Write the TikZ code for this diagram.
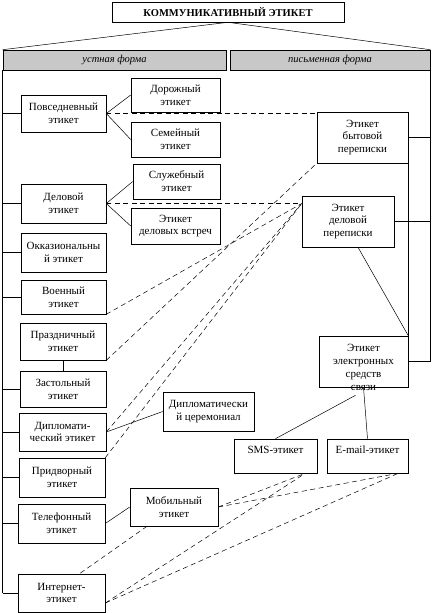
\documentclass[tikz,border=0pt]{standalone}
\usepackage{fontspec}
\setmainfont{Liberation Serif}
\definecolor{hdrgray}{RGB}{200,200,200}

\begin{document}
\begin{tikzpicture}[x=1pt, y=-1pt]
		\tikzset{box/.style={draw, line width=0.6pt, align=center, inner sep=1pt, font=\fontsize{11}{12.8}\selectfont}}
		\tikzset{sz/.style 2 args={minimum width=#1pt, minimum height=#2pt}}
		\tikzset{link/.style={line width=0.5pt}}
		\tikzset{dashlink/.style={line width=0.5pt, dash pattern=on 5pt off 3.5pt}}
		\useasboundingbox (0,0) rectangle (433,613);
		%headers
		\node[box, sz={232}{20}, font=\fontsize{10.5}{13}\selectfont\bfseries] (title) at (228,12) {КОММУНИКАТИВНЫЙ ЭТИКЕТ};
		\node[box, sz={223}{20}, fill=hdrgray, font=\fontsize{10.5}{12}\selectfont\itshape] (hdrL) at (114.5,60) {устная форма};
		\node[box, sz={200}{20}, fill=hdrgray, font=\fontsize{10.5}{12}\selectfont\itshape] (hdrR) at (330,60) {письменная форма};
		%oral form
		\node[box, sz={85}{37}] (pov) at (63.5,113.5) {Повседневный\\этикет};
		\node[box, sz={89}{34}] (dor) at (175.5,95) {Дорожный\\этикет};
		\node[box, sz={89}{35}] (sem) at (175.5,139.5) {Семейный\\этикет};
		\node[box, sz={87}{35}] (slu) at (176.5,181.5) {Служебный\\этикет};
		\node[box, sz={85}{39}] (del) at (63.5,203.5) {Деловой\\этикет};
		\node[box, sz={89}{36}] (vst) at (175.5,226) {Этикет\\деловых встреч};
		\node[box, sz={85}{39}] (okk) at (63.5,252.5) {Окказиональны\\й этикет};
		\node[box, sz={85}{34}] (voe) at (63.5,297) {Военный\\этикет};
		\node[box, sz={86}{37}] (pra) at (63,341.5) {Праздничный\\этикет};
		\node[box, sz={86}{36}] (zas) at (63,389) {Застольный\\этикет};
		\node[box, sz={87}{38}] (dip) at (62.5,432) {Дипломати-\\ческий этикет};
		\node[box, sz={86}{39}] (pri) at (62,477.5) {Придворный\\этикет};
		\node[box, sz={87}{39}] (tel) at (61.5,523.5) {Телефонный\\этикет};
		\node[box, sz={87}{38}] (int) at (61.5,593) {Интернет-\\этикет};
		\node[box, sz={91}{39}] (cer) at (208.5,411.5) {Дипломатически\\й церемониал};
		\node[box, sz={88}{38}] (mob) at (174,507) {Мобильный\\этикет};
		%written form
		\node[box, sz={91}{51}] (byt) at (362.5,137.5) {Этикет\\бытовой\\переписки};
		\node[box, sz={92}{51}] (dlp) at (348,221.5) {Этикет\\деловой\\переписки};
		\node[box, sz={89}{51}, label={[align=center, font=\fontsize{11}{13}\selectfont, yshift=-6pt]center:{Этикет\\электронных\\средств\\связи}}] (ele) at (363.5,361.5) {};
		\node[box, sz={83}{34}] (sms) at (275.5,456) {SMS-этикет\\\mbox{}};
		\node[box, sz={81}{34}] (eml) at (367.5,456) {E-mail-этикет\\\mbox{}};
		%tree
		\draw[link] (hdrL.north west) -- (title.south) -- (hdrR.north east);
		\coordinate (ltop) at (hdrL.south west);
		\coordinate (rtop) at (hdrR.south east);
		\draw[link] (ltop) -- (ltop |- int.west);
		\foreach \n in {pov,del,okk,voe,zas,dip,pri,tel,int}
			\draw[link] (ltop |- \n.west) -- (\n.west);
		\draw[link] (rtop) -- (rtop |- ele.east);
		\foreach \n in {byt,dlp,ele}
			\draw[link] (rtop |- \n.east) -- (\n.east);
		\draw[link] (byt.south east) -- (ele.north east);
		%edges
		\path[link] (pov.east) edge (dor.west) edge (sem.west);
		\path[link] (del.east) edge (slu.west) edge (vst.west);
		\draw[link] (pra.south) -- (zas.north);
		\draw[link] (dip.east) -- (cer.west);
		\draw[link] (tel.east) -- (mob.west);
		\draw[link] ([xshift=10pt]dlp.south) -- (ele.north east);
		\draw[link] ([xshift=-8pt, yshift=-8pt]ele.south) -- (sms.north);
		\draw[link] (ele.south) -- (eml.north);
		%dashed edges
		\coordinate (dlpin) at (del.east -| dlp.west);
		\coordinate (smsout) at ([xshift=-12pt]sms.south east);
		\coordinate (emlout) at ([xshift=-10pt]eml.south east);
		\coordinate (intout) at ([yshift=-10pt]int.east);
		\draw[dashlink] (pov.east) -- (pov.east -| byt.west);
		\draw[dashlink] (del.east) -- (dlpin);
		\draw[dashlink] (voe.south east) -- (dlpin);
		\draw[dashlink] (pra.south east) -- (byt.south west);
		\draw[dashlink] (dip.east) -- (dlpin);
		\draw[dashlink] (pri.north east) -- (dlpin);
		\path[dashlink] (mob.east) edge (smsout) edge (emlout);
		\path[dashlink] (intout) edge (smsout) edge (emlout);
		\draw[dashlink] ([xshift=-27pt]mob.south) -- ([xshift=18pt]int.north);
\end{tikzpicture}
\end{document}
